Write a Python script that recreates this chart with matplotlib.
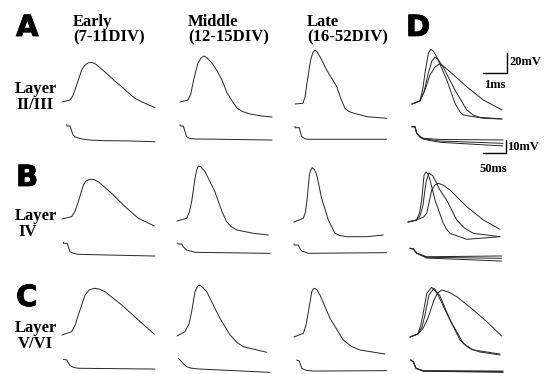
import matplotlib
matplotlib.use("Agg")
import matplotlib.pyplot as plt
import matplotlib.patheffects as pe

# ---------------- data (ms, mV relative to trace start) ----------------
# Action potentials (fast time base)
apA_early_t = [0, 0.33, 0.45, 0.54, 0.68, 0.82, 0.96, 1.10, 1.25, 1.40, 1.65, 1.93, 2.2, 2.49, 2.77, 3.04, 3.25, 3.46, 3.88]
apA_early_v = [0, 2, 6, 12, 22, 32, 37, 39.3, 39.5, 38, 33, 27, 21, 15.3, 9, 3.7, 1, -1.3, -5.7]
apA_mid_t = [0, 0.33, 0.45, 0.54, 0.65, 0.75, 0.875, 1.0, 1.125, 1.33, 1.55, 1.75, 1.96, 2.2, 2.375, 2.6, 2.92, 3.4, 3.83]
apA_mid_v = [0, 2, 8, 19, 30, 39, 44, 46, 44, 39, 31, 22, 9, 0, -6, -9.5, -12, -14, -15]
apA_late_t = [0, 0.33, 0.42, 0.5, 0.65, 0.74, 0.83, 0.92, 1.04, 1.32, 1.74, 1.9, 2.08, 2.25, 2.42, 2.99, 3.82]
apA_late_v = [0, 0.7, 7, 21, 44, 51, 54, 52, 47.3, 34, 17.3, 6, -4.3, -7.5, -9, -12.7, -14.3]

apB_early_t = [0, 0.4, 0.55, 0.68, 0.89, 1.0, 1.17, 1.33, 1.51, 2.07, 2.63, 3.18, 3.85]
apB_early_v = [0, 2.3, 8, 17.3, 34, 38, 39.7, 39.5, 37.3, 25.7, 12.3, 0.7, -7]
apB_mid_t = [0, 0.4, 0.52, 0.61, 0.75, 0.82, 0.89, 1.0, 1.17, 1.58, 1.88, 2.07, 2.25, 2.49, 3.18, 3.81]
apB_mid_v = [0, 2.7, 9, 19.3, 42.7, 51, 55, 54, 49.3, 29.3, 9, -0.7, -5.5, -9, -12.3, -14]
apB_late_t = [0, 0.39, 0.48, 0.55, 0.64, 0.70, 0.76, 0.85, 0.95, 1.15, 1.43, 1.71, 1.9, 2.2, 3.03, 3.72]
apB_late_v = [0, 3.7, 10, 23.7, 47, 52, 54.3, 52.5, 47, 23.7, 2, -11.3, -13.5, -14.7, -14.7, -13]

apC_early_t = [0, 0.4, 0.55, 0.68, 0.96, 1.13, 1.35, 1.54, 1.79, 2.49, 3.18, 3.85]
apC_early_v = [0, 3.3, 10, 20, 40, 45, 46.7, 46, 43.3, 30, 15, 0.7]
apC_mid_t = [0, 0.33, 0.5, 0.61, 0.75, 0.84, 0.93, 1.05, 1.24, 1.58, 1.79, 2.21, 2.5, 2.76, 3.74]
apC_mid_v = [0, 4.3, 12, 24.3, 44.3, 49, 51, 49, 44.3, 27.7, 17.7, 1, -6.5, -10.7, -16.3]
apC_late_t = [0, 0.39, 0.5, 0.6, 0.74, 0.8, 0.875, 0.96, 1.08, 1.5, 2.05, 2.4, 2.75, 3.79]
apC_late_v = [0, 3.7, 12, 25.3, 45.3, 48, 48.7, 47, 42, 18.7, -3, -9.5, -13, -17]

# Panel D overlays (three cells each)
apDA1_t = [0, 0.33, 0.45, 0.54, 0.68, 0.78, 0.88, 1.03, 1.45, 1.79, 2.0, 2.14, 2.97, 3.75]
apDA1_v = [0, 3, 15, 30.7, 50.7, 54.7, 53, 47.3, 24, 0.7, -8, -11, -14.3, -15]
apDA2_t = [0, 0.33, 0.5, 0.67, 0.83, 0.96, 1.1, 1.29, 1.79, 2.28, 2.55, 2.83, 3.75]
apDA2_v = [0, 3, 12, 30, 43, 47, 44, 37.3, 14, -6, -11, -13.3, -15]
apDA3_t = [0, 0.33, 0.54, 0.75, 0.96, 1.14, 1.3, 1.58, 2.28, 2.97, 3.75]
apDA3_v = [0, 3, 14, 29, 37, 40, 38, 32.3, 17.3, 4, -6]

apDB1_t = [0, 0.36, 0.48, 0.57, 0.67, 0.75, 0.83, 0.92, 1.125, 1.47, 1.6, 1.75, 2.45, 3.83]
apDB1_v = [0, 2, 9, 22, 47, 50, 48, 42, 22, -1.3, -7, -11.3, -17.3, -14.7]
apDB2_t = [0, 0.36, 0.5, 0.625, 0.75, 0.875, 1.04, 1.33, 1.61, 2.03, 2.35, 2.72, 3.83]
apDB2_v = [0, 2, 6, 17, 40, 49, 46, 32, 22, 2, -6, -11.3, -14.7]
apDB3_t = [0, 0.36, 0.65, 0.78, 0.99, 1.12, 1.26, 1.45, 1.75, 2.45, 3.14, 3.83]
apDB3_v = [0, 2, 5, 8.7, 32, 37, 38.7, 37, 32, 15.3, 2, -7.3]

apDC1_t = [0, 0.33, 0.45, 0.55, 0.7, 0.9, 1.125, 1.53, 2.08, 2.35, 2.64, 3.75]
apDC1_v = [0, 3, 12, 23.7, 43.7, 49.7, 44, 23.7, -3, -9, -13, -17]
apDC2_t = [0, 0.33, 0.5, 0.625, 0.79, 1.0, 1.25, 1.67, 2.22, 2.55, 2.92, 3.75]
apDC2_v = [0, 3, 10, 22, 42, 48.7, 41, 17, -6.3, -12, -15, -18]
apDC3_t = [0, 0.33, 0.55, 0.75, 1.0, 1.15, 1.32, 1.6, 1.95, 2.64, 3.2, 3.82]
apDC3_v = [0, 3, 9, 19, 37, 44, 47, 45, 40.3, 27, 15.3, 1]

# Passive responses (slow time base)
vA_early_t = [0, 0.5, 7.2, 10.5, 13.7, 18, 24.6, 33.3, 50.7, 83.3, 137.6, 192]
vA_early_v = [1.2, 0, 0, -3.5, -6.9, -8.3, -9.2, -10, -10.8, -11.3, -11.5, -12.1]
vA_mid_t = [0, 0.5, 7.2, 11, 14.5, 21.7, 32.6, 87, 200]
vA_mid_v = [1.0, 0, 0, -4.5, -8.2, -9.6, -10, -10.2, -10.8]
vA_late_t = [0, 0.5, 9.3, 12, 14.6, 21.7, 28.3, 199]
vA_late_v = [1.0, 0, 0, -3.5, -6.9, -8.5, -8.9, -8.9]

vB_early_t = [0, 0.5, 8.7, 11.5, 14.6, 23.3, 32.6, 199]
vB_early_v = [1.0, 0, 0, -3.5, -6.5, -7.8, -8.5, -9.8]
vB_mid_t = [0, 0.5, 8.7, 13, 19.6, 37.6, 200.7]
vB_mid_v = [0.8, 0, 0, -2.5, -4.6, -6.4, -7.2]
vB_late_t = [0, 0.5, 9.3, 12.5, 16.7, 31.1, 201.5]
vB_late_v = [0.8, 0, 0, -2.5, -4.6, -6.4, -5.9]

vC_early_t = [0, 7.4, 10.5, 14.6, 22, 32.6, 199]
vC_early_v = [0, -0.5, -2.5, -4.9, -6.2, -6.9, -7.5]
vC_mid_t = [0, 5.9, 12, 18.3, 28, 43.5, 199]
vC_mid_v = [0, -2.1, -4.6, -6.5, -7.6, -8.2, -10.8]
vC_late_t = [0, 5.7, 8.5, 10.9, 20, 36.1, 195.6]
vC_late_v = [0, -0.8, -3.5, -6.4, -7.9, -8.5, -8.2]

vDA_t = [0, 7.2, 10.9, 18, 25.2, 61.5, 198.5]
vDA1_v = [0, 0, -5.1, -7.5, -8.9, -9.8, -10.2]
vDA2_v = [0, 0, -5.1, -7.8, -9.3, -11, -12.8]
vDA3_v = [0, 0, -5.1, -8, -9.6, -12, -14.8]
vDB_t = [0, 7.2, 14.5, 36.2, 199]
vDB1_v = [0, -0.5, -3.8, -6.5, -5.9]
vDB2_v = [0, -0.5, -3.8, -6.9, -7.7]
vDB3_v = [0, -0.5, -3.8, -7.5, -9.8]
vDC_t = [0, 5.7, 11.5, 27.4, 200.7]
vDC1_v = [0, -1.3, -6.4, -8.2, -8.5]
vDC2_v = [0, -1.3, -6.4, -8.4, -9.0]
vDC3_v = [0, -1.3, -6.4, -8.6, -9.5]

col_titles = ["Early\n(7-11DIV)", "Middle\n(12-15DIV)", "Late\n(16-52DIV)"]
row_labels = ["Layer\nII/III", "Layer\nIV", "Layer\nV/VI"]
panel_letters = ["A", "B", "C", "D"]
ap_bar_ms, ap_bar_mv = 1, 20
slow_bar_ms, slow_bar_mv = 50, 10

# ---------------- layout ----------------
W, H = 555, 374
fig = plt.figure(figsize=(W / 100, H / 100), dpi=100)
fig.patch.set_facecolor("white")

AP_PPX, AP_PPY = 24.0, 1.0      # px per ms, px per mV
SL_PPX, SL_PPY = 0.46, 1.3

def overlay(x0, y0, ppx, ppy):
    ax = fig.add_axes([0, 0, 1, 1])
    ax.set_xlim(-x0 / ppx, (W - x0) / ppx)
    ax.set_ylim((y0 - H) / ppy, y0 / ppy)
    ax.axis("off")
    ax.patch.set_alpha(0)
    return ax

LC = "#262626"
LW = 0.7
kw = dict(color=LC, lw=LW, solid_joinstyle="round", solid_capstyle="round")

ap_sets = [
    [(apA_early_t, apA_early_v), (apA_mid_t, apA_mid_v), (apA_late_t, apA_late_v)],
    [(apB_early_t, apB_early_v), (apB_mid_t, apB_mid_v), (apB_late_t, apB_late_v)],
    [(apC_early_t, apC_early_v), (apC_mid_t, apC_mid_v), (apC_late_t, apC_late_v)],
]
ap_origins = [
    [(62, 102), (180, 102), (295, 104)],
    [(62, 219), (177, 221), (294, 222)],
    [(62, 335), (177, 336), (294, 337)],
]
sl_sets = [
    [(vA_early_t, vA_early_v), (vA_mid_t, vA_mid_v), (vA_late_t, vA_late_v)],
    [(vB_early_t, vB_early_v), (vB_mid_t, vB_mid_v), (vB_late_t, vB_late_v)],
    [(vC_early_t, vC_early_v), (vC_mid_t, vC_mid_v), (vC_late_t, vC_late_v)],
]
sl_origins = [
    [(66.7, 126), (180, 126), (295, 127.7)],
    [(63.3, 243.3), (177.7, 244), (294, 245)],
    [(63.3, 359.3), (178.3, 358.3), (296.7, 360)],
]

for r in range(3):
    for c in range(3):
        x0, y0 = ap_origins[r][c]
        ax = overlay(x0, y0, AP_PPX, AP_PPY)
        t, v = ap_sets[r][c]
        ax.plot(t, v, **kw)
        x0, y0 = sl_origins[r][c]
        ax = overlay(x0, y0, SL_PPX, SL_PPY)
        t, v = sl_sets[r][c]
        ax.plot(t, v, **kw)

# Panel D
d_ap = [
    [(apDA1_t, apDA1_v), (apDA2_t, apDA2_v), (apDA3_t, apDA3_v)],
    [(apDB1_t, apDB1_v), (apDB2_t, apDB2_v), (apDB3_t, apDB3_v)],
    [(apDC1_t, apDC1_v), (apDC2_t, apDC2_v), (apDC3_t, apDC3_v)],
]
d_ap_org = [(412, 104), (408, 222), (410, 337)]
d_sl = [
    (vDA_t, [vDA1_v, vDA2_v, vDA3_v]),
    (vDB_t, [vDB1_v, vDB2_v, vDB3_v]),
    (vDC_t, [vDC1_v, vDC2_v, vDC3_v]),
]
d_sl_org = [(411.7, 126.7), (410, 248.3), (410.7, 360)]

ap_axes_D = []
sl_axes_D = []
for r in range(3):
    ax = overlay(*d_ap_org[r], AP_PPX, AP_PPY)
    ap_axes_D.append(ax)
    for t, v in d_ap[r]:
        ax.plot(t, v, **kw)
    ax = overlay(*d_sl_org[r], SL_PPX, SL_PPY)
    sl_axes_D.append(ax)
    t, vs = d_sl[r]
    for v in vs:
        ax.plot(t, v, **kw)

# scale bars
serif = "Liberation Serif"
ax = ap_axes_D[0]
bx, by = 3.96, 31
ax.plot([bx - ap_bar_ms, bx, bx], [by, by, by + ap_bar_mv], color="black", lw=1.0)
ax.text(bx + 0.1, by + 11, f"{ap_bar_mv}mV", fontsize=9, fontweight="bold",
        family=serif, ha="left", va="center")
ax.text(bx - ap_bar_ms / 2, by - 12, f"{ap_bar_ms}ms", fontsize=9, fontweight="bold",
        family=serif, ha="center", va="center")

ax = sl_axes_D[0]
bx, by = 204.3, -20.2
ax.plot([bx - slow_bar_ms, bx, bx], [by, by, by + slow_bar_mv], color="black", lw=1.0)
ax.text(bx + 4, by + 4.7, f"{slow_bar_mv}mV", fontsize=9, fontweight="bold",
        family=serif, ha="left", va="center")
ax.text(bx - slow_bar_ms / 2 - 2, by - 12.5, f"{slow_bar_ms}ms", fontsize=9, fontweight="bold",
        family=serif, ha="center", va="center")

# text
def fx(x):
    return x / W

def fy(y):
    return 1 - y / H

letter_pos = [(16, 28), (16, 178), (16, 298), (406, 28)]
for L, (x, y) in zip(panel_letters, letter_pos):
    fig.text(fx(x), fy(y), L, fontsize=21, fontweight="bold", family="DejaVu Sans",
             ha="left", va="center",
             path_effects=[pe.withStroke(linewidth=0.6, foreground="black")])

title_x = [73, 188, 307]
for tx, title in zip(title_x, col_titles):
    top, bottom = title.split("\n")
    fig.text(fx(tx), fy(22), top, fontsize=12, fontweight="bold", family=serif,
             ha="left", va="center")
    fig.text(fx(tx), fy(37), bottom, fontsize=12, fontweight="bold", family=serif,
             ha="left", va="center")

row_y = [(89, 105), (216, 232), (328, 344)]
row_x2 = [35, 28, 35]
for lab, (y1, y2), x2 in zip(row_labels, row_y, row_x2):
    a, b = lab.split("\n")
    fig.text(fx(36), fy(y1), a, fontsize=12, fontweight="bold", family=serif,
             ha="center", va="center")
    fig.text(fx(x2), fy(y2), b, fontsize=12, fontweight="bold", family=serif,
             ha="center", va="center")

fig.savefig("out.png", dpi=100, facecolor="white")
